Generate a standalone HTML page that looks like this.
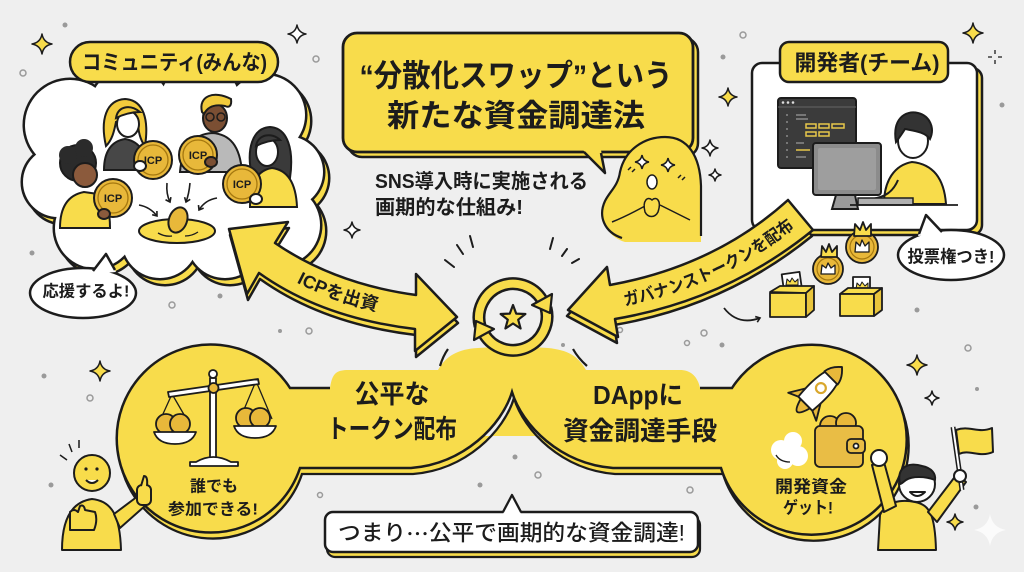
<!DOCTYPE html>
<html><head><meta charset="utf-8"><style>
html,body{margin:0;padding:0;background:#efefef;}
svg{display:block}
text{font-family:"Liberation Sans","Noto Sans CJK JP",sans-serif;font-weight:700;fill:#1c1c1c}
</style></head><body>
<svg width="1024" height="572" viewBox="0 0 1024 572" xmlns="http://www.w3.org/2000/svg">
<defs>
<g id="cl">
<circle cx="70" cy="125" r="45"/><circle cx="130" cy="108" r="40"/><circle cx="200" cy="103" r="40"/>
<circle cx="265" cy="115" r="40"/><circle cx="287" cy="172" r="36"/><circle cx="280" cy="225" r="40"/>
<circle cx="225" cy="240" r="38"/><circle cx="160" cy="240" r="38"/><circle cx="95" cy="228" r="40"/>
<circle cx="58" cy="182" r="35"/><ellipse cx="175" cy="175" rx="120" ry="80"/>
</g>
<path id="pL" d="M 267 258 Q 328 300 415 312"/>
<path id="pR" d="M 612 302 Q 721 283 800 215"/>
<marker id="ah" markerWidth="8" markerHeight="8" refX="5" refY="4" orient="auto" markerUnits="userSpaceOnUse"><path d="M1 1 L5 4 L1 7" fill="none" stroke="#1c1c1c" stroke-width="1.6"/></marker>
</defs>
<rect width="1024" height="572" fill="#efefef"/>

<!-- sparkles -->
<g stroke="#1c1c1c" stroke-width="1.5" stroke-linejoin="round">
<path d="M42 34 Q43.5 42.5 52 44 Q43.5 45.5 42 54 Q40.5 45.5 32 44 Q40.5 42.5 42 34Z" fill="#f8dc4b"/>
<path d="M297 25 Q298.4 32.6 306 34 Q298.4 35.4 297 43 Q295.6 35.4 288 34 Q295.6 32.6 297 25Z" fill="#fff"/>
<path d="M728 88 Q729.4 95.6 737 97 Q729.4 98.4 728 106 Q726.6 98.4 719 97 Q726.6 95.6 728 88Z" fill="#f8dc4b"/>
<path d="M710 140 Q711.2 146.8 718 148 Q711.2 149.2 710 156 Q708.8 149.2 702 148 Q708.8 146.8 710 140Z" fill="#fff"/>
<path d="M715 169 Q715.9 174.1 721 175 Q715.9 175.9 715 181 Q714.1 175.9 709 175 Q714.1 174.1 715 169Z" fill="#fff"/>
<path d="M973 23 Q974.5 31.5 983 33 Q974.5 34.5 973 43 Q971.5 34.5 963 33 Q971.5 31.5 973 23Z" fill="#f8dc4b"/>
<path d="M352 222 Q353.2 228.8 360 230 Q353.2 231.2 352 238 Q350.8 231.2 344 230 Q350.8 228.8 352 222Z" fill="#fff"/>
<path d="M100 361 Q101.5 369.5 110 371 Q101.5 372.5 100 381 Q98.5 372.5 90 371 Q98.5 369.5 100 361Z" fill="#f8dc4b"/>
<path d="M917 355 Q918.5 363.5 927 365 Q918.5 366.5 917 375 Q915.5 366.5 907 365 Q915.5 363.5 917 355Z" fill="#f8dc4b"/>
<path d="M932 391 Q933 397 939 398 Q933 399 932 405 Q931 399 925 398 Q931 397 932 391Z" fill="#fff"/>
<path d="M955 514 Q956.2 520.8 963 522 Q956.2 523.2 955 530 Q953.8 523.2 947 522 Q953.8 520.8 955 514Z" fill="#f8dc4b"/>
<path d="M995 50 L995 54 M995 60 L995 64 M988 57 L992 57 M998 57 L1002 57" fill="none" stroke-width="1.3"/>
</g>
<path d="M990 514 Q992.4 527.6 1006 530 Q992.4 532.4 990 546 Q987.6 532.4 974 530 Q987.6 527.6 990 514Z" fill="#fbfbfb"/>
<g fill="#9a9a9a">
<circle cx="65" cy="25" r="2.5"/><circle cx="723" cy="57" r="2.5"/><circle cx="1002" cy="105" r="2.5"/>
<circle cx="32" cy="253" r="2.5"/><circle cx="220" cy="296" r="2.5"/><circle cx="44" cy="376" r="2.5"/>
<circle cx="51" cy="485" r="2.5"/><circle cx="280" cy="331" r="2"/><circle cx="478" cy="382" r="2"/>
<circle cx="515" cy="457" r="2.5"/><circle cx="480" cy="485" r="2.5"/><circle cx="722" cy="345" r="2.5"/>
<circle cx="977" cy="389" r="2"/><circle cx="976" cy="507" r="2.5"/><circle cx="917" cy="310" r="2.5"/>
<circle cx="515" cy="420" r="2"/><circle cx="283" cy="390" r="2"/><circle cx="563" cy="345" r="2"/>
</g>
<g fill="none" stroke="#9a9a9a" stroke-width="1.5">
<circle cx="23" cy="73" r="3"/><circle cx="316" cy="59" r="3"/><circle cx="743" cy="35" r="3"/>
<circle cx="309" cy="331" r="3"/><circle cx="90" cy="398" r="3"/><circle cx="320" cy="495" r="2.5"/>
<circle cx="538" cy="475" r="3"/><circle cx="968" cy="348" r="3"/><circle cx="690" cy="490" r="3"/>
<circle cx="540" cy="330" r="2.5"/><circle cx="172" cy="305" r="3"/><circle cx="704" cy="333" r="3"/>
<circle cx="687" cy="343" r="2.5"/><circle cx="620" cy="330" r="2.5"/>
</g>

<!-- community cloud -->
<use href="#cl" transform="translate(5,6)" fill="#f8dc4b" stroke="#1c1c1c" stroke-width="5"/>
<use href="#cl" transform="translate(5,6)" fill="#f8dc4b"/>
<use href="#cl" fill="#fff" stroke="#1c1c1c" stroke-width="5"/>
<use href="#cl" fill="#fff"/>
<rect x="70" y="42" width="208" height="40" rx="20" fill="#f8dc4b" stroke="#1c1c1c" stroke-width="2.5"/>
<text x="174.5" y="63" font-size="21" text-anchor="middle" dominant-baseline="central" textLength="185" lengthAdjust="spacingAndGlyphs">コミュニティ(みんな)</text>

<!-- people in cloud -->
<g stroke="#1c1c1c" stroke-width="2">
<!-- person B -->
<path d="M106 146 C100 120 106 100 125 99 C144 100 149 120 145 146 C140 140 138 130 138 122 L116 122 C114 132 112 140 106 146 Z" fill="#f2cb3c"/>
<path d="M104 170 C104 151 112 141 125 139 C138 141 146 151 147 170 Z" fill="#474747"/>
<ellipse cx="128" cy="124" rx="11" ry="13" fill="#fff"/>
<path d="M116 118 C118 106 130 104 140 112 C132 112 124 114 116 118 Z" fill="#f2cb3c"/>
<!-- person C -->
<path d="M180 172 C182 146 195 134 212 133 C230 134 240 146 242 172 Z" fill="#b9b9b9"/>
<ellipse cx="215" cy="118" rx="12" ry="14" fill="#7b4f33"/>
<path d="M202 112 C198 96 214 90 231 99 C232 106 229 108 225 106 C215 104 208 106 204 114 Z" fill="#f2cb3c"/>
<circle cx="210" cy="117" r="4" fill="none" stroke-width="1.5"/><circle cx="221" cy="117" r="4" fill="none" stroke-width="1.5"/>
<!-- person D -->
<path d="M252 176 C246 150 252 128 270 127 C288 128 294 150 290 178 Z" fill="#3a3a3a"/>
<path d="M250 207 C250 182 258 170 272 168 C288 170 296 184 297 207 Z" fill="#f8dc4b"/>
<ellipse cx="267" cy="152" rx="11" ry="14" fill="#fff"/>
<path d="M256 146 C258 134 272 132 280 140 C272 140 264 142 256 146 Z" fill="#3a3a3a"/>
<!-- person A -->
<circle cx="78" cy="163" r="18" fill="#2b2b2b"/>
<circle cx="68" cy="155" r="9" fill="#2b2b2b" stroke="none"/><circle cx="84" cy="148" r="9" fill="#2b2b2b" stroke="none"/>
<path d="M60 228 C60 207 68 195 84 192 L98 194 C108 200 110 214 110 228 Z" fill="#f8dc4b"/>
<ellipse cx="85" cy="175" rx="12" ry="12" fill="#8b5a3c"/>
<!-- coins -->
<g fill="#e8b83a">
<circle cx="113" cy="198" r="19"/><circle cx="153" cy="160" r="19"/><circle cx="198" cy="155" r="19"/><circle cx="242" cy="184" r="19"/>
</g>
<g fill="none" stroke="#a5780f" stroke-width="1.3">
<circle cx="113" cy="198" r="15"/><circle cx="153" cy="160" r="15"/><circle cx="198" cy="155" r="15"/><circle cx="242" cy="184" r="15"/>
</g>
<ellipse cx="104" cy="214" rx="6" ry="5" fill="#8b5a3c"/>
<ellipse cx="140" cy="166" rx="6" ry="5" fill="#fff"/>
<ellipse cx="211" cy="162" rx="6" ry="5" fill="#7b4f33"/>
<ellipse cx="256" cy="199" rx="6" ry="5" fill="#fff"/>
<!-- pool -->
<ellipse cx="177" cy="231" rx="38" ry="12" fill="#f8dc4b"/>
<ellipse cx="178" cy="220" rx="9" ry="13" fill="#e8b83a" transform="rotate(20 178 220)"/>
<path d="M158 233 Q165 237 172 236 M185 236 Q192 236 198 232" fill="none" stroke-width="1.3"/>
</g>
<g fill="none" stroke="#1c1c1c" stroke-width="1.6" marker-end="url(#ah)">
<path d="M139 205 Q150 207 157 216"/><path d="M167 183 Q166 194 170 202"/><path d="M190 183 Q189 194 186 202"/><path d="M217 198 Q205 200 199 210"/>
</g>
<g font-size="11" text-anchor="middle" dominant-baseline="central">
<text x="113" y="199">ICP</text><text x="153" y="161">ICP</text><text x="198" y="156">ICP</text><text x="242" y="185">ICP</text>
</g>

<!-- bubble 応援 -->
<ellipse cx="83" cy="293" rx="53" ry="25" fill="#fff" stroke="#1c1c1c" stroke-width="2.5"/>
<path d="M92 274 L106 254 L116 272 Z" fill="#fff"/>
<path d="M93 271 L106 254 L115 270" fill="none" stroke="#1c1c1c" stroke-width="2.5" stroke-linejoin="round"/>
<text x="86" y="292" font-size="16" text-anchor="middle" dominant-baseline="central" textLength="87" lengthAdjust="spacingAndGlyphs">応援するよ!</text>

<!-- headline box -->
<rect x="348" y="38" width="350" height="119" rx="14" fill="#f8dc4b" stroke="#1c1c1c" stroke-width="2.5"/>
<rect x="343" y="33" width="350" height="119" rx="14" fill="#f8dc4b" stroke="#1c1c1c" stroke-width="2.8"/>
<path d="M583 150 L605 173 L601 150 Z" fill="#f8dc4b"/>
<path d="M584 152 L605 173 L601 153" fill="none" stroke="#1c1c1c" stroke-width="2.5" stroke-linejoin="round"/>
<text x="516" y="76" font-size="31" text-anchor="middle" dominant-baseline="central" textLength="313" lengthAdjust="spacingAndGlyphs">“分散化スワップ”という</text>
<text x="516" y="116" font-size="31" text-anchor="middle" dominant-baseline="central" textLength="258" lengthAdjust="spacingAndGlyphs">新たな資金調達法</text>
<text x="375" y="182" font-size="20" dominant-baseline="central" textLength="213" lengthAdjust="spacingAndGlyphs">SNS導入時に実施される</text>
<text x="375" y="208" font-size="20" dominant-baseline="central" textLength="148" lengthAdjust="spacingAndGlyphs">画期的な仕組み!</text>

<!-- blob character -->
<path d="M625 242 C605 236 598 216 605 201 C610 191 618 186 620 172 C625 149 645 137 665 137 C688 137 700 156 701 186 L701 242 Z" fill="#f8dc4b"/>
<path d="M622 238 C604 232 598 216 605 201 C610 191 618 186 620 172 C625 149 645 137 665 137 C688 137 700 156 701 186 L701 236" fill="none" stroke="#1c1c1c" stroke-width="2.2"/>
<g stroke="#1c1c1c" stroke-width="1.5">
<path d="M642 155 Q643 161 649 162 Q643 163 642 169 Q641 163 635 162 Q641 161 642 155Z" fill="#fff"/>
<path d="M668 158 Q669 164 675 165 Q669 166 668 172 Q667 166 661 165 Q667 164 668 158Z" fill="#fff"/>
<ellipse cx="652" cy="182" rx="5" ry="7" fill="#fff"/>
<path d="M612 222 C622 218 634 212 645 206 M690 220 C680 215 670 210 660 205" fill="none"/>
<path d="M645 212 C642 200 648 196 652 200 C656 196 662 200 658 212 C655 218 648 218 645 212 Z" fill="#f8dc4b"/>
<path d="M628 170 l3 -3 M632 172 l3 -3 M678 178 l3 -3 M682 180 l3 -3" fill="none"/>
</g>

<!-- dev box -->
<rect x="757" y="68" width="225" height="167" rx="10" fill="#f8dc4b" stroke="#1c1c1c" stroke-width="2.5"/>
<rect x="752" y="63" width="225" height="167" rx="10" fill="#fff" stroke="#1c1c1c" stroke-width="2.5"/>
<rect x="780" y="42" width="168" height="40" rx="9" fill="#f8dc4b" stroke="#1c1c1c" stroke-width="2.5"/>
<text x="867" y="63" font-size="22" text-anchor="middle" dominant-baseline="central" textLength="145" lengthAdjust="spacingAndGlyphs">開発者(チーム)</text>
<g stroke="#1c1c1c" stroke-width="2">
<rect x="778" y="98" width="78" height="70" rx="3" fill="#3b3b3b"/>
<line x1="778" y1="107" x2="856" y2="107" stroke="#666" stroke-width="1"/>
<g fill="#ddd" stroke="none"><circle cx="783" cy="102.5" r="1.3"/><circle cx="788" cy="102.5" r="1.3"/><circle cx="793" cy="102.5" r="1.3"/></g>
<g stroke="#999" stroke-width="1.3"><path d="M786 115 h2 M786 122 h2 M786 129 h2 M786 136 h2 M786 143 h2 M786 150 h2 M786 157 h2 M796 115 h10 M796 119 h12 M796 143 h8 M796 157 h10"/></g>
<g stroke="#e8c84a" stroke-width="1.5" fill="none"><rect x="806" y="124" width="10" height="4"/><rect x="819" y="124" width="10" height="4"/><rect x="832" y="124" width="12" height="4"/><rect x="806" y="132" width="10" height="4"/><rect x="819" y="132" width="10" height="4"/><path d="M796 150 h14"/></g>
<!-- person -->
<path d="M884 204 C884 180 895 165 912 162 C932 164 944 177 946 204 Z" fill="#f8dc4b"/>
<ellipse cx="913" cy="141" rx="15" ry="17" fill="#fff"/>
<path d="M896 142 C892 119 905 110 918 113 C930 116 935 128 930 139 C925 132 915 131 905 129 C902 134 899 138 896 142 Z" fill="#333"/>
<path d="M898 180 C893 192 885 197 872 199" fill="none" stroke-width="2"/>
<rect x="813" y="143" width="68" height="52" rx="3" fill="#8c8c8c"/>
<rect x="818" y="148" width="58" height="42" rx="2" fill="#9e9e9e" stroke="none"/>
<path d="M836 195 L855 195 L858 209 L832 209 Z" fill="#9a9a9a"/>
<rect x="858" y="198" width="55" height="7" fill="#b0b0b0" stroke-width="1.5"/>
<line x1="850" y1="205" x2="958" y2="205" stroke-width="1.8"/>
</g>

<!-- bubble 投票権 -->
<ellipse cx="951" cy="255" rx="53" ry="25" fill="#fff" stroke="#1c1c1c" stroke-width="2.5"/>
<path d="M918 236 L926 215 L944 234 Z" fill="#fff"/>
<path d="M919 234 L926 215 L942 232" fill="none" stroke="#1c1c1c" stroke-width="2.5" stroke-linejoin="round"/>
<text x="951" y="257" font-size="17" text-anchor="middle" dominant-baseline="central" textLength="87" lengthAdjust="spacingAndGlyphs">投票権つき!</text>

<!-- crown coins & ballot boxes -->
<g stroke="#1c1c1c" stroke-width="1.8" stroke-linejoin="round">
<circle cx="862" cy="247" r="16" fill="#e8b83a"/><circle cx="862" cy="247" r="12" fill="none" stroke="#a5780f" stroke-width="1.2"/>
<path d="M854 236 L855 224 L860 230 L863 222 L866 230 L871 224 L871 236 Z" fill="#f8dc4b"/>
<path d="M855 252 L856 242 L860 246 L862 240 L865 246 L869 242 L869 252 Z" fill="#fff" stroke-width="1.3"/>
<circle cx="828" cy="269" r="15" fill="#e8b83a"/><circle cx="828" cy="269" r="11" fill="none" stroke="#a5780f" stroke-width="1.2"/>
<path d="M821 257 L822 246 L826 252 L829 244 L832 252 L837 246 L837 257 Z" fill="#f8dc4b"/>
<path d="M821 274 L822 265 L826 268 L828 263 L831 268 L835 265 L835 274 Z" fill="#fff" stroke-width="1.3"/>
<rect x="783" y="273" width="18" height="20" fill="#fff" transform="rotate(-8 792 283)"/>
<path d="M786 285 L787 279 L790 282 L792 278 L795 282 L798 279 L798 285 Z" fill="#f8dc4b" stroke-width="1"/>
<path d="M770 292 L780 286 L814 286 L806 293 Z" fill="#f8dc4b"/>
<rect x="770" y="293" width="36" height="24" fill="#f8dc4b"/>
<path d="M806 293 L814 286 L814 310 L806 317 Z" fill="#e9c53c"/>
<rect x="853" y="277" width="17" height="18" fill="#fff"/>
<path d="M856 289 L857 283 L860 286 L862 282 L865 286 L868 283 L868 289 Z" fill="#f8dc4b" stroke-width="1"/>
<path d="M840 294 L848 288 L882 288 L874 294 Z" fill="#f8dc4b"/>
<rect x="840" y="294" width="34" height="22" fill="#f8dc4b"/>
<path d="M874 294 L882 288 L882 310 L874 316 Z" fill="#e9c53c"/>
</g>
<path d="M724 308 Q738 326 760 318" fill="none" stroke="#1c1c1c" stroke-width="1.8" marker-end="url(#ah)"/>

<!-- bottom shape -->
<path transform="translate(2,6)" d="M330 388 L290 388 A94 94 0 1 0 300 468 L411 468 C464 464 502 425 512 392 C522 425 560 464 613 468 L721 468 A95 95 0 1 0 732 388 L700 388 L700 430 L330 430 Z" fill="#f8dc4b"/>
<path transform="translate(2,6)" d="M290 388 A94 94 0 1 0 300 468 L411 468 C464 464 502 425 512 392 C522 425 560 464 613 468 L721 468 A95 95 0 1 0 732 388" fill="none" stroke="#1c1c1c" stroke-width="2.3"/>
<path d="M290 388 L330 388 C332 374 336 370 348 370 L438 370 C446 356 458 349 478 348 Q512 345 548 348 C568 350 578 356 586 370 L680 370 C692 370 698 378 700 388 L732 388 A95 95 0 1 1 721 468 L613 468 C560 464 522 425 512 392 C502 425 464 464 411 468 L300 468 A94 94 0 1 1 290 388 Z" fill="#f8dc4b"/>
<path d="M330 388 L290 388 A94 94 0 1 0 300 468 L411 468 C464 464 502 425 512 392 C522 425 560 464 613 468 L721 468 A95 95 0 1 0 732 388 L700 388" fill="none" stroke="#1c1c1c" stroke-width="2.5"/>
<path d="M448 349 Q443 356 440 366 M573 349 Q578 358 587 366" fill="none" stroke="#1c1c1c" stroke-width="2.2"/>
<text x="392" y="394" font-size="26" text-anchor="middle" dominant-baseline="central" textLength="75" lengthAdjust="spacingAndGlyphs">公平な</text>
<text x="392" y="429" font-size="26" text-anchor="middle" dominant-baseline="central" textLength="130" lengthAdjust="spacingAndGlyphs">トークン配布</text>
<text x="638" y="395" font-size="26" text-anchor="middle" dominant-baseline="central" textLength="90" lengthAdjust="spacingAndGlyphs">DAppに</text>
<text x="640" y="431" font-size="26" text-anchor="middle" dominant-baseline="central" textLength="154" lengthAdjust="spacingAndGlyphs">資金調達手段</text>
<text x="214" y="487" font-size="16" text-anchor="middle" dominant-baseline="central" textLength="48" lengthAdjust="spacingAndGlyphs">誰でも</text>
<text x="213" y="510" font-size="16" text-anchor="middle" dominant-baseline="central" textLength="90" lengthAdjust="spacingAndGlyphs">参加できる!</text>
<text x="811" y="487" font-size="17" text-anchor="middle" dominant-baseline="central" textLength="72" lengthAdjust="spacingAndGlyphs">開発資金</text>
<text x="808" y="508" font-size="17" text-anchor="middle" dominant-baseline="central" textLength="50" lengthAdjust="spacingAndGlyphs">ゲット!</text>

<!-- scales -->
<g stroke="#1c1c1c" stroke-width="1.8" stroke-linejoin="round">
<path d="M172 394 L158 425 M172 394 L190 425 M256 381 L240 419 M256 381 L272 419" fill="none" stroke-width="1.3"/>
<circle cx="166" cy="424" r="10" fill="#e8b83a"/><circle cx="180" cy="424" r="10" fill="#e8b83a"/>
<circle cx="246" cy="418" r="10" fill="#e8b83a"/><circle cx="260" cy="418" r="10" fill="#e8b83a"/>
<path d="M154 432 L196 432 Q192 444 175 444 Q158 444 154 432 Z" fill="#fff"/>
<path d="M234 426 L276 426 Q272 438 255 438 Q238 438 234 426 Z" fill="#fff"/>
<rect x="210" y="378" width="6" height="84" fill="#fff"/>
<path d="M168 392 L258 379 L259 384 L169 397 Z" fill="#fff"/>
<circle cx="213" cy="374" r="4" fill="#fff"/>
<circle cx="213.5" cy="388" r="5" fill="#e8b83a"/>
<path d="M196 462 Q213 452 231 462 L238 462 L238 466 L190 466 L190 462 Z" fill="#fff"/>
</g>

<!-- rocket, smoke, wallet -->
<g fill="#fff">
<circle cx="781" cy="450" r="10"/><circle cx="793" cy="441" r="9"/><circle cx="798" cy="456" r="10"/><circle cx="785" cy="461" r="8"/>
</g>
<path d="M776 455 Q780 462 790 462" fill="none" stroke="#1c1c1c" stroke-width="1.3"/>
<g transform="translate(817 392) rotate(45) scale(1.1)" stroke="#1c1c1c" stroke-width="1.7" stroke-linejoin="round">
<path d="M-6 15 Q0 36 6 15 Z" fill="#e8b83a"/>
<path d="M-9 4 L-18 19 L-9 15 Z M9 4 L18 19 L9 15 Z" fill="#e8b83a"/>
<path d="M0 -32 C10 -22 11 -5 9 15 L-9 15 C-11 -5 -10 -22 0 -32 Z" fill="#fff"/>
<path d="M0 -32 C6 -27 8 -22 8.5 -18 L-8.5 -18 C-8 -22 -6 -27 0 -32 Z" fill="#e8b83a"/>
<circle cx="0" cy="-5" r="4.5" fill="#fff" stroke="#d9a72c" stroke-width="2"/>
</g>
<g stroke="#1c1c1c" stroke-width="1.8">
<circle cx="830" cy="426" r="10" fill="#e8b83a"/><circle cx="846" cy="423" r="10" fill="#e8b83a"/>
<rect x="815" y="426" width="48" height="41" rx="5" fill="#e9bd45"/>
<rect x="847" y="439" width="18" height="14" rx="4" fill="#e9bd45"/>
<circle cx="856" cy="446" r="2.5" fill="#fff"/>
</g>

<!-- left figure -->
<g stroke="#1c1c1c" stroke-width="2" stroke-linejoin="round">
<path d="M62 550 C62 522 70 502 92 499 C112 501 120 516 121 550 Z" fill="#f8dc4b"/>
<path d="M114 514 L138 496 L146 505 L120 528 Z" fill="#f8dc4b"/>
<rect x="137" y="485" width="14" height="20" rx="5" fill="#f8dc4b"/>
<path d="M141 486 L144 476 Q148 476 147 486" fill="#f8dc4b"/>
<circle cx="92" cy="473" r="18" fill="#f8dc4b"/>
<path d="M70 530 L70 512 Q74 508 78 512 L80 506 Q84 504 85 510 L95 512 Q98 520 94 530 Z" fill="#f8dc4b"/>
<path d="M86 480 Q92 486 98 480" fill="#fff"/>
<path d="M60 455 L67 460 M69 444 L72 452 M79 440 L79 448" fill="none" stroke-width="1.5"/>
</g>
<circle cx="86" cy="469" r="1.6" fill="#1c1c1c"/><circle cx="97" cy="469" r="1.6" fill="#1c1c1c"/>

<!-- right figure -->
<g stroke="#1c1c1c" stroke-width="2" stroke-linejoin="round">
<path d="M878 550 L880 515 C886 502 900 499 915 502 C930 505 935 515 936 550 Z" fill="#f8dc4b"/>
<path d="M884 512 L872 465 L884 462 L896 506 Z" fill="#f8dc4b"/>
<circle cx="879" cy="458" r="8" fill="#fff"/>
<path d="M928 512 L957 474 L966 482 L937 522 Z" fill="#f8dc4b"/>
<line x1="953" y1="427" x2="962" y2="490" stroke-width="5"/>
<line x1="953" y1="427" x2="962" y2="490" stroke="#fff" stroke-width="2"/>
<path d="M956 430 C970 425 978 434 992 428 L993 452 C979 458 970 449 959 454 Z" fill="#f8dc4b"/>
<circle cx="960" cy="476" r="6" fill="#fff"/>
<circle cx="917" cy="484" r="18" fill="#fff"/>
<path d="M900 484 C896 466 910 462 922 466 C932 468 936 474 935 480 C925 476 912 476 906 480 C903 482 902 484 900 484 Z" fill="#333"/>
<path d="M910 492 Q917 500 925 492 Z" fill="#fff"/>
</g>

<!-- bottom label -->
<rect x="327" y="517" width="373" height="40" rx="8" fill="#f8dc4b" stroke="#1c1c1c" stroke-width="2.2"/>
<rect x="325" y="512" width="373" height="40" rx="8" fill="#fff" stroke="#1c1c1c" stroke-width="2.5"/>
<path d="M503 514 L512 495 L521 514 Z" fill="#fff"/>
<path d="M503 512 L512 495 L521 512" fill="none" stroke="#1c1c1c" stroke-width="2.3" stroke-linejoin="round"/>
<text x="511.5" y="533" font-size="22" text-anchor="middle" dominant-baseline="central" textLength="347" lengthAdjust="spacingAndGlyphs" style="font-weight:500">つまり<tspan style="font-family:'Noto Sans CJK JP',sans-serif">…</tspan>公平で画期的な資金調達!</text>

<!-- arrows -->
<g stroke="#1c1c1c" stroke-width="2.5" stroke-linejoin="round" fill="#f8dc4b">
<path transform="translate(1,6)" d="M229 229 L288 222 L275 243 Q335 284 416 295 L416 274 L457 317 L415 351 L415 329 Q322 318 259 273 L247 294 Z"/>
<path d="M229 229 L288 222 L275 243 Q335 284 416 295 L416 274 L457 317 L415 351 L415 329 Q322 318 259 273 L247 294 Z"/>
<path transform="translate(-1,6)" d="M568 310 L607 267 L610 285 Q715 266 788 200 L813 230 Q727 300 615 319 L618 337 Z"/>
<path d="M568 310 L607 267 L610 285 Q715 266 788 200 L813 230 Q727 300 615 319 L618 337 Z"/>
</g>
<text font-size="18" dominant-baseline="central"><textPath href="#pL" startOffset="50%" text-anchor="middle">ICPを出資</textPath></text>
<text font-size="17" dominant-baseline="central"><textPath href="#pR" startOffset="50%" text-anchor="middle" textLength="186" lengthAdjust="spacingAndGlyphs">ガバナンストークンを配布</textPath></text>

<!-- center icon -->
<g fill="none" stroke-linecap="butt">
<path d="M480 326 A34 34 0 0 1 542 300" stroke="#1c1c1c" stroke-width="13"/>
<path d="M546 308 A34 34 0 0 1 484 334" stroke="#1c1c1c" stroke-width="13"/>
<path d="M480 326 A34 34 0 0 1 542 300" stroke="#f8dc4b" stroke-width="8"/>
<path d="M546 308 A34 34 0 0 1 484 334" stroke="#f8dc4b" stroke-width="8"/>
</g>
<g fill="#f8dc4b" stroke="#1c1c1c" stroke-width="2.2" stroke-linejoin="round">
<path d="M550 313 L552 294 L532 305 Z"/>
<path d="M476 321 L474 340 L494 329 Z"/>
<path d="M513 305 L516.2 313.6 L525.4 314 L518.2 319.7 L520.6 328.5 L513 323.5 L505.4 328.5 L507.8 319.7 L500.6 314 L509.8 313.6 Z"/>
</g>
<g stroke="#1c1c1c" stroke-width="2" stroke-linecap="round">
<path d="M445 260 L454 267 M457 245 L463 254 M470 236 L473 247 M553 238 L550 249 M567 249 L562 256 M579 259 L572 263"/>
</g>
</svg>
</body></html>
